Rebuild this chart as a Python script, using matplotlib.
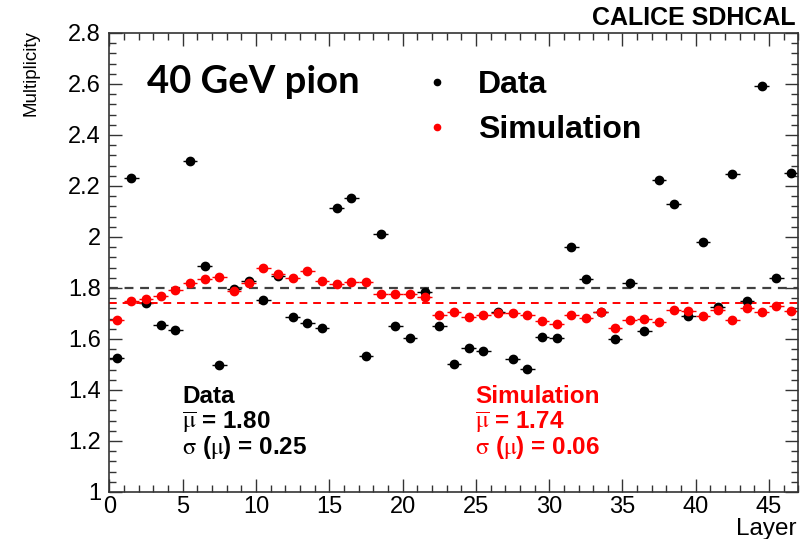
import numpy as np
import matplotlib

matplotlib.use("Agg")
import matplotlib.pyplot as plt
from matplotlib.lines import Line2D
from matplotlib.ticker import MultipleLocator, FuncFormatter

# Mean multiplicity per layer, 40 GeV pion
layers = np.arange(47)
data_mult = [1.524, 2.230, 1.742, 1.655, 1.635, 2.298, 1.886, 1.499, 1.795, 1.829,
             1.753, 1.848, 1.685, 1.661, 1.644, 2.114, 2.153, 1.533, 2.011, 1.651,
             1.603, 1.786, 1.651, 1.502, 1.566, 1.553, 1.705, 1.520, 1.481, 1.609,
             1.604, 1.962, 1.835, 1.707, 1.599, 1.821, 1.633, 2.224, 2.129, 1.692,
             1.979, 1.724, 2.248, 1.748, 2.592, 1.841, 2.251]
sim_mult = [1.675, 1.749, 1.758, 1.770, 1.792, 1.818, 1.835, 1.843, 1.789, 1.818,
            1.878, 1.855, 1.839, 1.865, 1.827, 1.814, 1.824, 1.824, 1.775, 1.778,
            1.776, 1.763, 1.694, 1.707, 1.688, 1.693, 1.703, 1.702, 1.693, 1.671,
            1.660, 1.693, 1.681, 1.705, 1.642, 1.675, 1.677, 1.668, 1.715, 1.711,
            1.692, 1.714, 1.675, 1.720, 1.707, 1.729, 1.711]
data_err = 0.015
sim_err = 0.012
data_mean, data_sigma = 1.80, 0.25
sim_mean, sim_sigma = 1.74, 0.06

plt.rcParams["font.family"] = ["Liberation Sans", "DejaVu Sans"]
plt.rcParams["mathtext.fontset"] = "stix"

fig = plt.figure(figsize=(8, 5.39), dpi=100)
ax = fig.add_axes([0.1368, 0.0872, 0.8612, 0.8516])

x = layers + 0.5  # bin centres
ax.errorbar(x, data_mult, xerr=0.5, yerr=data_err, fmt="o", color="black",
            ms=6, elinewidth=1, capsize=0)
ax.errorbar(x, sim_mult, xerr=0.5, yerr=sim_err, fmt="o", color="red",
            ms=6, elinewidth=1, capsize=0)
ax.axhline(data_mean, color="#404040", ls=(0, (4, 3)), lw=1.6)
ax.axhline(sim_mean, color="red", ls=(0, (4, 3)), lw=1.4)

ax.set_xlim(0, 47)
ax.set_ylim(1, 2.8)
ax.xaxis.set_major_locator(MultipleLocator(5))
ax.xaxis.set_minor_locator(MultipleLocator(1))
ax.yaxis.set_major_locator(MultipleLocator(0.2))
ax.yaxis.set_minor_locator(MultipleLocator(0.04))
ax.yaxis.set_major_formatter(FuncFormatter(lambda v, p: "%g" % round(v, 2)))
ax.tick_params(which="both", direction="in", top=True, right=True,
               color="#333333", width=1, labelsize=17)
ax.tick_params(which="major", length=9.5)
ax.tick_params(which="minor", length=5)
ax.tick_params(axis="y", pad=6)
ax.tick_params(axis="x", pad=3)
for s in ax.spines.values():
    s.set_color("#333333")
    s.set_linewidth(1.2)

fig.text(0.039, 1 - 30 / 539, "Multiplicity", rotation=90, ha="center", va="top",
         fontsize=13.5)
fig.text(0.996, 1 - 535 / 539, "Layer", ha="right", va="baseline", fontsize=17.5)
fig.text(0.994, 1 - 25 / 539, "CALICE SDHCAL", ha="right", va="baseline",
         fontsize=18, fontweight="bold")
fig.text(147 / 800, 1 - 93 / 539, "40 GeV pion", ha="left", va="baseline",
         fontsize=27.5, fontweight="bold", family=["Lato", "DejaVu Sans"])

handles = [Line2D([], [], marker="o", ls="", color="black", ms=4.5),
           Line2D([], [], marker="o", ls="", color="red", ms=4.5)]
ax.legend(handles, ["Data", "Simulation"], loc="upper left",
          bbox_to_anchor=(0.452, 0.92), frameon=False, handlelength=1,
          handletextpad=0.8, borderpad=0, borderaxespad=0, labelspacing=0.47,
          prop={"size": 23, "weight": "bold"})

stats = [("Data", data_mean, data_sigma, "black", 182),
         ("Simulation", sim_mean, sim_sigma, "red", 475)]
for name, mean, sigma, col, px in stats:
    lines = [name, r"$\overline{\mathrm{\mu}}$ = %.2f" % mean,
             r"$\mathrm{\sigma}$ ($\mathrm{\mu}$) = %.2f" % sigma]
    for k, txt in enumerate(lines):
        fig.text(px / 800, 1 - (403 + 25.5 * k) / 539, txt, ha="left",
                 va="baseline", fontsize=17.5, fontweight="bold", color=col)

fig.savefig("out.png", dpi=100)
plt.close(fig)
